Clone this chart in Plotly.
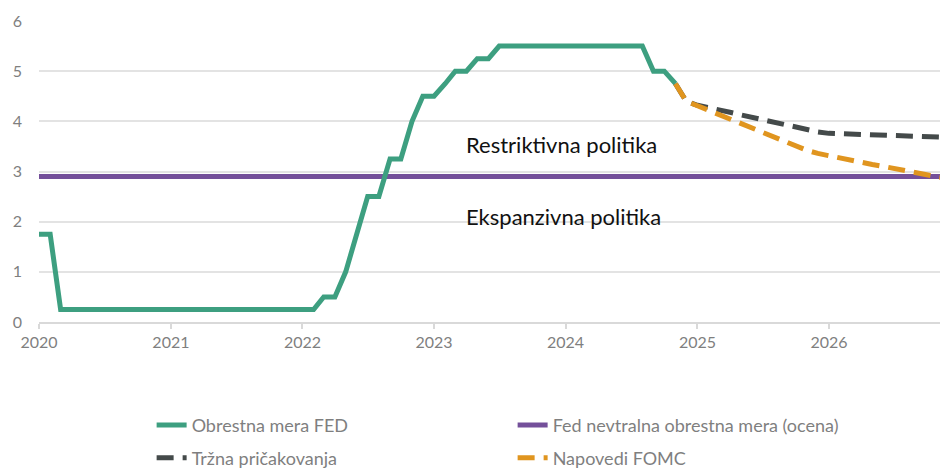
import pandas as pd
import plotly.graph_objects as go

# ---- data ----
fed_dates = pd.date_range("2020-01-01", "2024-11-01", freq="MS")
fed_rate = [
    1.75, 1.75, 0.25, 0.25, 0.25, 0.25, 0.25, 0.25, 0.25, 0.25, 0.25, 0.25,   # 2020
    0.25, 0.25, 0.25, 0.25, 0.25, 0.25, 0.25, 0.25, 0.25, 0.25, 0.25, 0.25,   # 2021
    0.25, 0.25, 0.50, 0.50, 1.00, 1.75, 2.50, 2.50, 3.25, 3.25, 4.00, 4.50,   # 2022
    4.50, 4.75, 5.00, 5.00, 5.25, 5.25, 5.50, 5.50, 5.50, 5.50, 5.50, 5.50,   # 2023
    5.50, 5.50, 5.50, 5.50, 5.50, 5.50, 5.50, 5.50, 5.00, 5.00, 4.75,         # 2024
]

neutral_dates = ["2020-01-01", "2026-12-01"]
neutral_rate = [2.9, 2.9]

fc_dates = pd.date_range("2024-11-01", "2026-12-01", freq="MS")
market = [
    4.75, 4.40,                                                             # Nov-Dec 2024
    4.32, 4.28, 4.22, 4.18, 4.13, 4.08, 4.03, 3.98, 3.93, 3.89, 3.84, 3.79,   # 2025
    3.76, 3.755, 3.75, 3.74, 3.735, 3.73, 3.72, 3.71, 3.70, 3.695, 3.69, 3.68, # 2026
]
fomc = [
    4.75, 4.40,
    4.31, 4.22, 4.13, 4.03, 3.94, 3.86, 3.77, 3.68, 3.59, 3.51, 3.42, 3.36,
    3.31, 3.27, 3.23, 3.18, 3.14, 3.10, 3.06, 3.02, 2.98, 2.93, 2.88, 2.85,
]

names = ["Obrestna mera FED", "Fed nevtralna obrestna mera (ocena)",
         "Tržna pričakovanja", "Napovedi FOMC"]
ann_text = ["Restriktivna politika", "Ekspanzivna politika"]

GREEN = "#3d9f80"
PURPLE = "#74509a"
DARK = "#444a4a"
ORANGE = "#e0951f"
FONT = "Lato"

fig = go.Figure()
fig.add_trace(go.Scatter(x=neutral_dates, y=neutral_rate, mode="lines", name=names[1],
                         line=dict(color=PURPLE, width=5), legend="legend", legendrank=2))
fig.add_trace(go.Scatter(x=fed_dates, y=fed_rate, mode="lines", name=names[0],
                         line=dict(color=GREEN, width=5), legend="legend", legendrank=1))
fig.add_trace(go.Scatter(x=fc_dates, y=market, mode="lines", name=names[2],
                         line=dict(color=DARK, width=5, dash="17px,9px"),
                         legend="legend2", legendrank=1))
fig.add_trace(go.Scatter(x=fc_dates, y=fomc, mode="lines", name=names[3],
                         line=dict(color=ORANGE, width=5, dash="17px,9px"),
                         legend="legend2", legendrank=2))

fig.add_annotation(x="2023-03-24", y=3.53, text=ann_text[0], showarrow=False,
                   xanchor="left", yanchor="middle", font=dict(family=FONT, size=22, color="#111"))
fig.add_annotation(x="2023-03-24", y=2.11, text=ann_text[1], showarrow=False,
                   xanchor="left", yanchor="middle", font=dict(family=FONT, size=22, color="#111"))

legend_common = dict(orientation="h", entrywidth=316, entrywidthmode="pixels",
                     font=dict(family=FONT, size=18, color="#7f7f7f"),
                     xanchor="left", yanchor="middle", bgcolor="rgba(0,0,0,0)",
                     traceorder="normal")

fig.update_layout(
    width=940, height=469,
    margin=dict(l=39, r=0, t=21, b=147, autoexpand=False),
    paper_bgcolor="white", plot_bgcolor="white",
    font=dict(family=FONT, size=16, color="#7f7f7f"),
    showlegend=True,
    legend=dict(x=0.125, y=-0.343, **legend_common),
    legend2=dict(x=0.125, y=-0.452, **legend_common),
    xaxis=dict(range=["2020-01-01", "2026-11-05"], type="date", dtick="M12",
               tick0="2020-01-01", tickformat="%Y", showgrid=False, automargin=False,
               showline=True, linecolor="#d9d9d9", linewidth=2,
               ticks="outside", ticklen=5, tickcolor="#d9d9d9", tickwidth=2,
               tickfont=dict(family=FONT, size=16, color="#7f7f7f"), zeroline=False),
    yaxis=dict(range=[0, 6], dtick=1, showgrid=True, gridcolor="#e3e3e3", gridwidth=2,
               zeroline=False, ticklabelstandoff=16, automargin=False,
               tickfont=dict(family=FONT, size=16, color="#7f7f7f")),
)

fig.write_html("out.html", config={"displayModeBar": False},
               post_script="document.body.style.margin='0';document.body.style.overflow='hidden';")
